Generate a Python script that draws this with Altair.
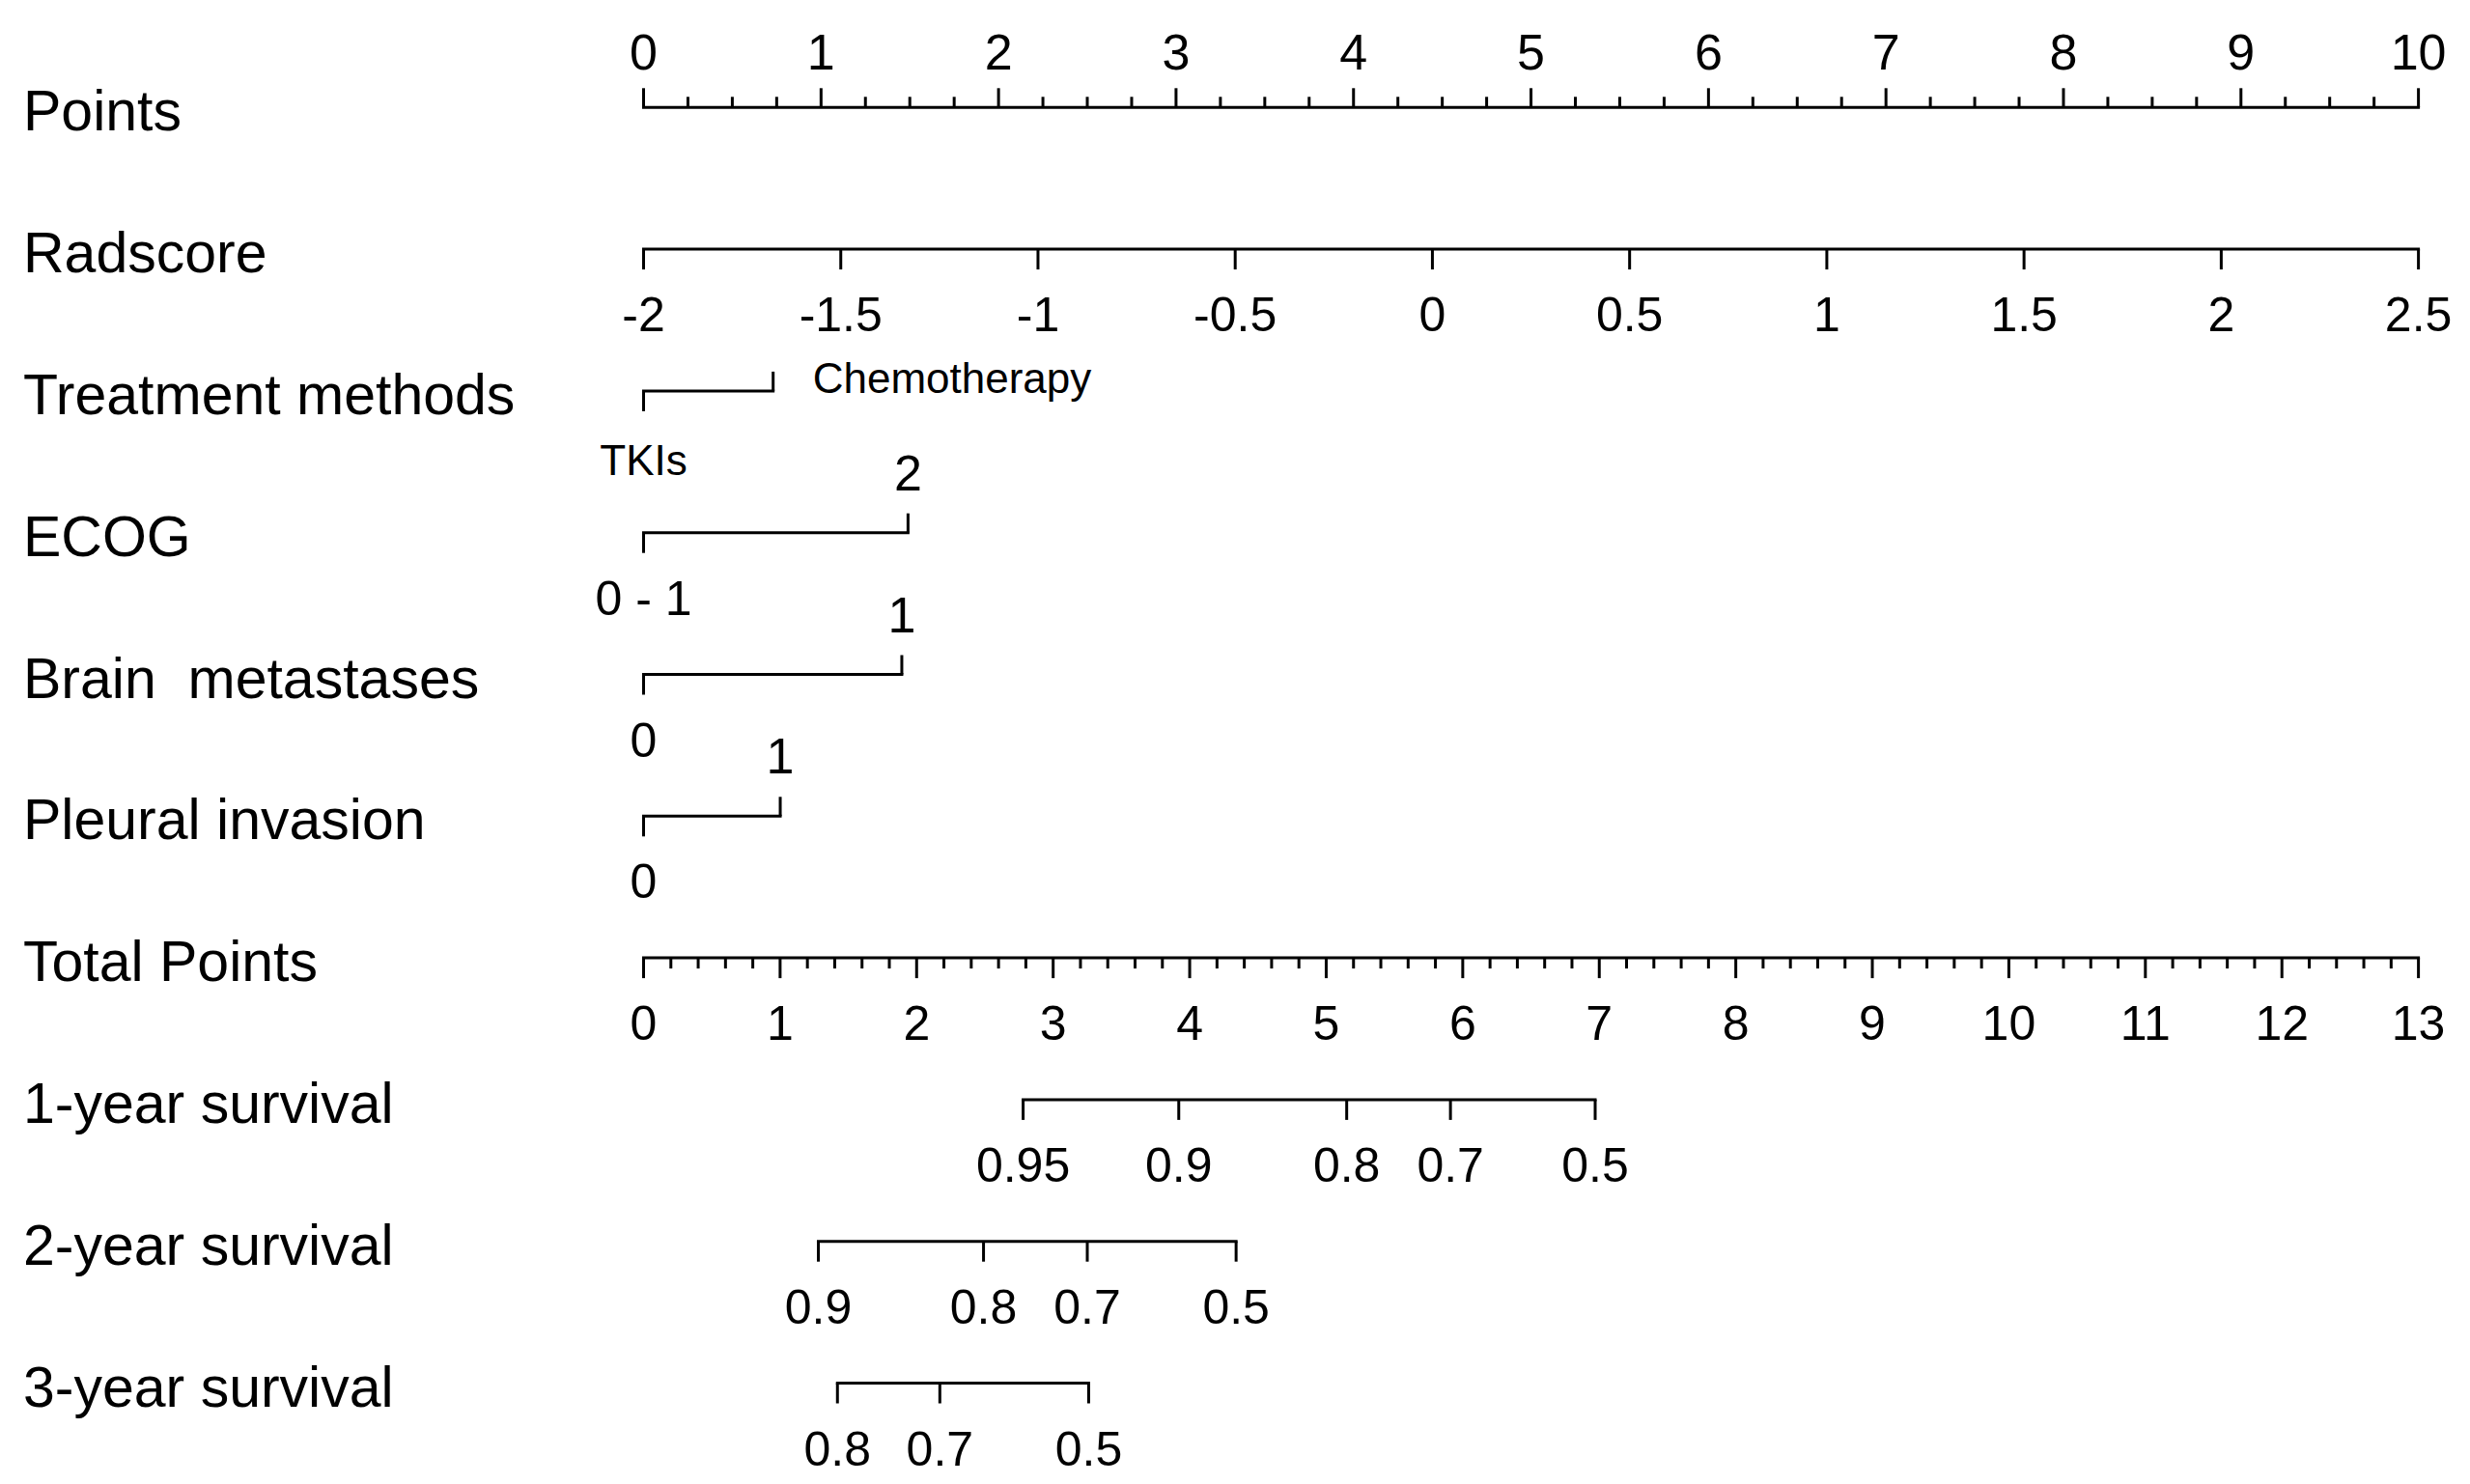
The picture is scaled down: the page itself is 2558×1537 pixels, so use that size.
import altair as alt
import pandas as pd
import numpy as np

# ---------------- data ----------------
row_names = ["Points", "Radscore", "Treatment methods", "ECOG", "Brain\u00a0 metastases",
             "Pleural invasion", "Total Points", "1-year survival", "2-year survival",
             "3-year survival"]

points_major = [0, 1, 2, 3, 4, 5, 6, 7, 8, 9, 10]
points_minor_step = 0.25

radscore_ticks = [-2, -1.5, -1, -0.5, 0, 0.5, 1, 1.5, 2, 2.5]
radscore_labels = ["-2", "-1.5", "-1", "-0.5", "0", "0.5", "1", "1.5", "2", "2.5"]
radscore_min, radscore_max = -2, 2.5

treatment_levels = ["TKIs", "Chemotherapy"]
treatment_points = [0, 0.73]
ecog_levels = ["0 - 1", "2"]
ecog_points = [0, 1.49]
brain_levels = ["0", "1"]
brain_points = [0, 1.455]
pleural_levels = ["0", "1"]
pleural_points = [0, 0.77]

total_major = [0, 1, 2, 3, 4, 5, 6, 7, 8, 9, 10, 11, 12, 13]
total_minor_step = 0.2
total_max = 13

surv1_labels = ["0.95", "0.9", "0.8", "0.7", "0.5"]
surv1_total = [2.78, 3.92, 5.15, 5.91, 6.97]
surv2_labels = ["0.9", "0.8", "0.7", "0.5"]
surv2_total = [1.28, 2.49, 3.25, 4.34]
surv3_labels = ["0.8", "0.7", "0.5"]
surv3_total = [1.42, 2.17, 3.26]


# ---------------- transforms onto the points scale ----------------
def rad_pts(r):
    return (r - radscore_min) / (radscore_max - radscore_min) * 10


def tot_pts(t):
    return t / total_max * 10


lines, up_major, up_minor, down_major, down_minor = [], [], [], [], []
lab_points, lab_above, lab_below, lab_chemo, lab_tki = [], [], [], [], []

# Points row (0)
lines.append(dict(row=0, x=0, x2=10))
for v in points_major:
    up_major.append(dict(row=0, x=v))
    lab_points.append(dict(row=0, x=v, label=str(v)))
for v in np.arange(0, 10 + 1e-9, points_minor_step):
    if abs(v - round(v)) > 1e-6:
        up_minor.append(dict(row=0, x=float(v)))

# Radscore row (1)
lines.append(dict(row=1, x=rad_pts(radscore_min), x2=rad_pts(radscore_max)))
for v, l in zip(radscore_ticks, radscore_labels):
    down_major.append(dict(row=1, x=rad_pts(v)))
    lab_below.append(dict(row=1, x=rad_pts(v), label=l))

# categorical rows
cats = [(2, treatment_levels, treatment_points), (3, ecog_levels, ecog_points),
        (4, brain_levels, brain_points), (5, pleural_levels, pleural_points)]
for r, levels, pts in cats:
    lines.append(dict(row=r, x=min(pts), x2=max(pts)))
    down_major.append(dict(row=r, x=pts[0]))
    up_major.append(dict(row=r, x=pts[1]))
    if r == 2:
        lab_tki.append(dict(row=r, x=pts[0], label=levels[0]))
        lab_chemo.append(dict(row=r, x=pts[1], label=levels[1]))
    else:
        lab_below.append(dict(row=r, x=pts[0], label=levels[0]))
        lab_above.append(dict(row=r, x=pts[1], label=levels[1]))

# Total points row (6)
lines.append(dict(row=6, x=0, x2=10))
for v in total_major:
    down_major.append(dict(row=6, x=tot_pts(v)))
    lab_below.append(dict(row=6, x=tot_pts(v), label=str(v)))
for v in np.arange(0, total_max + 1e-9, total_minor_step):
    if abs(v - round(v)) > 1e-6:
        down_minor.append(dict(row=6, x=tot_pts(float(v))))

# survival rows (7, 8, 9)
for r, labs, tots in [(7, surv1_labels, surv1_total), (8, surv2_labels, surv2_total),
                      (9, surv3_labels, surv3_total)]:
    lines.append(dict(row=r, x=tot_pts(min(tots)), x2=tot_pts(max(tots))))
    for l, t in zip(labs, tots):
        down_major.append(dict(row=r, x=tot_pts(t)))
        lab_below.append(dict(row=r, x=tot_pts(t), label=l))

names_df = pd.DataFrame(dict(row=list(range(len(row_names))), label=row_names))

# ---------------- chart ----------------
FONT = "Liberation Sans"
xscale = alt.Scale(domain=[0, 10], range=[658.5, 2496.6], nice=False)
yscale = alt.Scale(domain=[0, 9], range=[103.3, 1424.5], nice=False, zero=False)
X = alt.X("x:Q", scale=xscale, axis=None)
Y = alt.Y("row:Q", scale=yscale, axis=None)

line_layer = alt.Chart(pd.DataFrame(lines)).mark_rule(
    color="black", strokeWidth=3, strokeCap="square"
).encode(x=X, x2="x2:Q", y=Y)


def ticks(data, offset):
    return alt.Chart(pd.DataFrame(data)).mark_rule(
        color="black", strokeWidth=3, y2Offset=offset
    ).encode(x=X, y=Y, y2=alt.Y2("row:Q"))


def texts(data, size, dy, align="center", dx=0):
    return alt.Chart(pd.DataFrame(data)).mark_text(
        font=FONT, fontSize=size, color="black", baseline="middle",
        align=align, dy=dy, dx=dx
    ).encode(x=X, y=Y, text="label:N")


names_layer = alt.Chart(names_df).mark_text(
    font=FONT, fontSize=59, color="black", baseline="middle", align="left", dy=6
).encode(x=alt.value(16), y=Y, text="label:N")

chart = alt.layer(
    line_layer,
    ticks(up_major, -20),
    ticks(up_minor, -11),
    ticks(down_major, 21),
    ticks(down_minor, 11),
    texts(lab_points, 52, -55),
    texts(lab_above, 52, -60),
    texts(lab_below, 50, 70),
    texts(lab_chemo, 44, -11, align="left", dx=41),
    texts(lab_tki, 44, 74),
    names_layer,
).properties(
    width=2542, height=1521, padding=0,
    autosize=alt.AutoSizeParams(type="none"),
    background="white",
).configure_view(stroke=None)

chart.save("out.html", embed_options={"renderer": "svg", "actions": False})
